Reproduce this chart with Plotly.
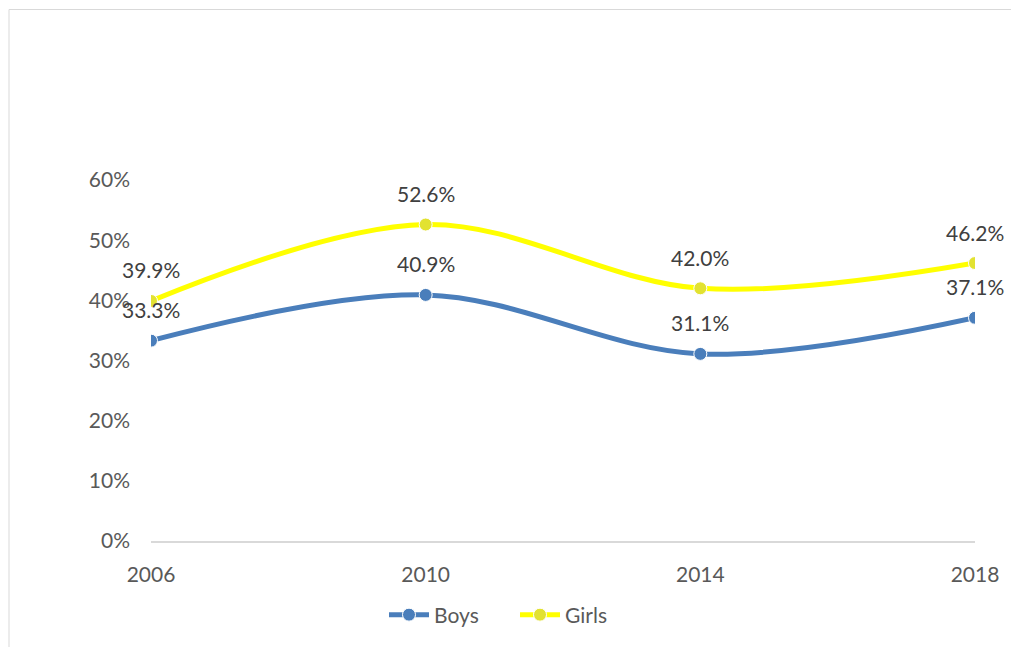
import plotly.graph_objects as go

years = [2006, 2010, 2014, 2018]
boys = [0.333, 0.409, 0.311, 0.371]
girls = [0.399, 0.526, 0.420, 0.462]
y_ticks = [0, 0.1, 0.2, 0.3, 0.4, 0.5, 0.6]

BLUE = "#4A7EBB"
YELLOW = "#FFFF00"
YELLOW_MK = "#E2E231"
FONT = "Lato"

fig = go.Figure()
fig.add_trace(go.Scatter(
    x=years, y=boys, name="Boys", mode="lines+markers",
    line=dict(color=BLUE, width=5, shape="spline", smoothing=1.0),
    marker=dict(color=BLUE, size=13, line=dict(color="white", width=1)),
))
fig.add_trace(go.Scatter(
    x=years, y=girls, name="Girls", mode="lines+markers",
    line=dict(color=YELLOW, width=5, shape="spline", smoothing=1.0),
    marker=dict(color=YELLOW_MK, size=13, line=dict(color="white", width=1)),
))

annotations = []
for xs, ys in ((years, boys), (years, girls)):
    for xv, yv in zip(xs, ys):
        annotations.append(dict(
            x=xv, y=yv, text=f"{yv*100:.1f}%", showarrow=False,
            yshift=31, font=dict(family=FONT, size=21, color="#404040"),
        ))

# page body has an 8px margin: work in figure coordinates (screen - 8)
OFF = 8
L, R, T, B = 151 - OFF, 975 - OFF, 180 - OFF, 541 - OFF
W, H = 1019 - OFF, 647 - OFF
pw, ph = R - L, B - T

def px(x):
    return (x - OFF - L) / pw

def py(y):
    return (B - (y - OFF)) / ph

fig.add_shape(type="rect", xref="paper", yref="paper",
              x0=px(9), x1=px(1040), y0=py(670), y1=py(9.5),
              line=dict(color="#D9D9D9", width=1), fillcolor="rgba(0,0,0,0)", layer="below")

fig.update_layout(
    width=W, height=H,
    margin=dict(l=L, r=W - R, t=T, b=H - B, autoexpand=False),
    paper_bgcolor="white", plot_bgcolor="white",
    font=dict(family=FONT, size=21, color="#595959"),
    annotations=annotations,
    showlegend=True,
    legend=dict(orientation="h", x=px(515), xanchor="center", y=py(615), yanchor="middle",
                font=dict(family=FONT, size=21, color="#595959"), itemwidth=40,
                entrywidth=76, entrywidthmode="pixels",
                bgcolor="rgba(0,0,0,0)", tracegroupgap=0),
    xaxis=dict(range=[2006, 2018], tickvals=years, ticktext=[str(y) for y in years],
               showgrid=False, zeroline=False, showline=True, linecolor="#D9D9D9", linewidth=1.5,
               ticks="", ticklabelstandoff=14, fixedrange=True),
    yaxis=dict(range=[0, 0.6], tickvals=y_ticks, tickformat=".0%",
               showgrid=False, zeroline=False, showline=False, ticks="",
               ticklabelstandoff=20, fixedrange=True),
)

fig.write_html("out.html")
